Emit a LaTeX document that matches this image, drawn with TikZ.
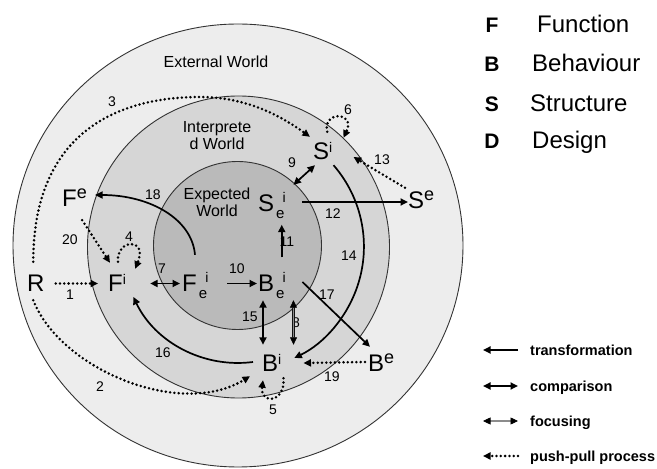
\documentclass[tikz,border=0pt]{standalone}
\usepackage{fontspec}
\setmainfont{Liberation Sans}
\usetikzlibrary{arrows.meta}
\newcommand{\symfont}{\fontsize{24}{24}\selectfont}
\newcommand{\supfont}{\fontsize{14}{14}\selectfont}
\newcommand{\extfont}{\fontsize{18}{18}\selectfont}
\newcommand{\extsym}[1]{#1\raisebox{8pt}{\extfont e}}
\newcommand{\intsym}[1]{#1\raisebox{7pt}{\supfont i}}
\newcommand{\expsym}[1]{#1\kern2pt\rlap{\kern6.5pt\raisebox{9pt}{\supfont i}}\raisebox{-6.5pt}{\fontsize{15}{15}\selectfont e}}

\begin{document}
\begin{tikzpicture}[x=1pt,y=1pt,
  symnode/.style={inner sep=0pt,anchor=base west,text height=18.5pt,text depth=1.5pt,font=\symfont},
  numlabel/.style={inner sep=0pt,font=\fontsize{14}{14}\selectfont},
  worldlabel/.style={inner sep=0pt,align=center,font=\fontsize{16}{17}\selectfont},
  transarrow/.style={line width=1.7pt,-{Triangle[length=7.5pt,width=7pt]}},
  comparrow/.style={line width=1.7pt,{Triangle[length=7.5pt,width=7pt]}-{Triangle[length=7.5pt,width=7pt]}},
  focusarrow/.style={line width=0.7pt,double=black!45,double distance=1.2pt,{Triangle[length=7.5pt,width=7pt]}-{Triangle[length=7.5pt,width=7pt]}},
  pusharrow/.style={line width=2.8pt,line cap=round,dash pattern=on 0pt off 4.3pt,-{Triangle[length=7.5pt,width=7pt]}}]
\useasboundingbox (0,0) rectangle (657,469);

\fill[black!7] (238,223.5) ellipse [x radius=225, y radius=221.5];
\fill[black!16] (238.5,222) circle (151);
\fill[black!27] (237.5,223.5) circle (84);
\draw[black!80,line width=0.9pt] (238,223.5) ellipse [x radius=225, y radius=221.5];
\draw[black!80,line width=0.9pt] (238.5,222) circle (151);
\draw[black!80,line width=0.9pt] (237.5,223.5) circle (84);

\node[worldlabel] at (216,407) {External World};
\node[worldlabel] at (217,333.5) {Interprete\\d World};
\node[worldlabel] at (217,267) {Expected\\World};

\node[symnode] (R) at (27,177) {R};
\node[symnode] (Fi) at (108,177) {\intsym{F}};
\node[symnode] (FeI) at (182,177) {\expsym{F}};
\node[symnode] (BeI) at (258,177) {\expsym{B}};
\node[symnode] (Fe) at (62,262) {\extsym{F}};
\node[symnode] (SeI) at (258,257) {\expsym{S}};
\node[symnode] (Si) at (313,309) {\intsym{S}};
\node[symnode] (Se) at (408,260) {\extsym{S}};
\node[symnode] (Bi) at (262,97) {\intsym{B}};
\node[symnode] (Be) at (368,97) {\extsym{B}};

\node[numlabel] at (70,174) {1};
\node[numlabel] at (100,82) {2};
\node[numlabel] at (112,367) {3};
\node[numlabel] at (129,232) {4};
\node[numlabel] at (273,59) {5};
\node[numlabel] at (348,359) {6};
\node[numlabel] at (162,200) {7};
\node[numlabel] at (296,146) {8};
\node[numlabel] at (292,306) {9};
\node[numlabel] at (237,200) {10};
\node[numlabel] at (287,227) {11};
\node[numlabel] at (333,255) {12};
\node[numlabel] at (382,309) {13};
\node[numlabel] at (349,213) {14};
\node[numlabel] at (250,152) {15};
\node[numlabel] at (163,116) {16};
\node[numlabel] at (327,174) {17};
\node[numlabel] at (153,274) {18};
\node[numlabel] at (332,92) {19};
\node[numlabel] at (70,229) {20};

\draw[pusharrow] ([xshift=11pt]R.east) -- ([xshift=-10pt]Fi.west);
\draw[pusharrow] ([shift={(-2.6pt,-6.5pt)}]R.south) .. controls (60,100) and (180,50) .. ([shift={(-12pt,-2.5pt)}]Bi.south west);
\draw[pusharrow] ([shift={(-2.6pt,11.5pt)}]R.north) .. controls (33,330) and (110,372) .. (200,372) .. controls (250,372) and (285,350) .. ([shift={(-3pt,4.5pt)}]Si.north west);
\draw[pusharrow] ([shift={(10pt,11.5pt)}]Fi.north west) .. controls (116,230) and (148,232) .. ([shift={(9pt,4.5pt)}]Fi.north east);
\draw[pusharrow] ([shift={(2pt,-4.5pt)}]Bi.south east) .. controls (285,65) and (260,65) .. ([shift={(1pt,-6.5pt)}]Bi.south west);
\draw[pusharrow] ([shift={(4.5pt,9.5pt)}]Si.north) .. controls (322,358) and (356,358) .. ([shift={(11pt,3.5pt)}]Si.north east);
\draw[comparrow] ([xshift=24pt]Fi.east) -- ([xshift=-2pt]FeI.west);
\draw[focusarrow] ([shift={(8.7pt,-6.5pt)}]BeI.south east) -- ([shift={(12pt,8.5pt)}]Bi.north east);
\draw[comparrow] ([shift={(8.7pt,8.5pt)}]SeI.north east) -- ([shift={(2pt,-3.5pt)}]Si.south west);
\draw[transarrow] ([xshift=20pt]FeI.east) -- ([xshift=-1pt]BeI.west);
\draw[transarrow] ([shift={(-3pt,16pt)}]BeI.north east) -- ([shift={(-3pt,-11pt)}]SeI.south east);
\draw[transarrow] ([shift={(17.7pt,1.5pt)}]SeI.east) -- ([shift={(0pt,-1.5pt)}]Se.west);
\draw[pusharrow] ([shift={(-3pt,2.5pt)}]Se.north west) -- ([shift={(21pt,-5.5pt)}]Si.east);
\draw[transarrow] ([shift={(1pt,-3.5pt)}]Si.south east) arc[start angle=41, end angle=-64, radius=124];
\draw[comparrow] ([shift={(5pt,-6.5pt)}]BeI.south west) -- ([shift={(1pt,8.5pt)}]Bi.north west);
\draw[transarrow] ([shift={(-9pt,1.5pt)}]Bi.west) arc[start angle=-82.6, end angle=-154.5, radius=116];
\draw[transarrow] ([shift={(17.7pt,1.5pt)}]BeI.east) -- ([shift={(2pt,6.5pt)}]Be.north west);
\draw[transarrow] ([shift={(13pt,18.5pt)}]FeI.north west) .. controls (192,250) and (150,274) .. ([shift={(8pt,3.5pt)}]Fe.east);
\draw[pusharrow] ([shift={(-3pt,1.5pt)}]Be.west) -- ([shift={(22pt,0.5pt)}]Bi.east);
\draw[pusharrow] ([shift={(7.6pt,-11.5pt)}]Fe.south) -- ([shift={(2pt,10.5pt)}]Fi.north west);

\node[anchor=base,font=\fontsize{21}{21}\selectfont\bfseries] (kF) at (492,436) {F};
\node[anchor=base,font=\fontsize{21}{21}\selectfont\bfseries] (kB) at (492,397) {B};
\node[anchor=base,font=\fontsize{21}{21}\selectfont\bfseries] (kS) at (492,357) {S};
\node[anchor=base,font=\fontsize{21}{21}\selectfont\bfseries] (kD) at (492,320) {D};
\node[anchor=base west,inner sep=0pt,font=\symfont] (tF) at (537,436) {Function};
\node[anchor=base west,inner sep=0pt,font=\symfont] (tB) at (532,397) {Behaviour};
\node[anchor=base west,inner sep=0pt,font=\symfont] (tS) at (530,357) {Structure};
\node[anchor=base west,inner sep=0pt,font=\symfont] (tD) at (532,320) {Design};

\node[anchor=base west,inner sep=0pt,font=\fontsize{14.5}{17}\selectfont\bfseries] (lt) at (530,113) {transformation};
\node[anchor=base west,inner sep=0pt,font=\fontsize{14.5}{17}\selectfont\bfseries] (lc) at (530,77) {comparison};
\node[anchor=base west,inner sep=0pt,font=\fontsize{14.5}{17}\selectfont\bfseries] (lf) at (530,42) {focusing};
\node[anchor=base west,inner sep=0pt,font=\fontsize{14.5}{17}\selectfont\bfseries] (lp) at (530,7) {push-pull process};
\draw[transarrow] ([shift={(-12pt,6pt)}]lt.base west) -- ([shift={(-47pt,6pt)}]lt.base west);
\draw[comparrow] ([shift={(-47pt,6pt)}]lc.base west) -- ([shift={(-12pt,6pt)}]lc.base west);
\draw[focusarrow] ([shift={(-47pt,6pt)}]lf.base west) -- ([shift={(-12pt,6pt)}]lf.base west);
\draw[pusharrow] ([shift={(-12pt,6pt)}]lp.base west) -- ([shift={(-47pt,6pt)}]lp.base west);

\end{tikzpicture}
\end{document}
